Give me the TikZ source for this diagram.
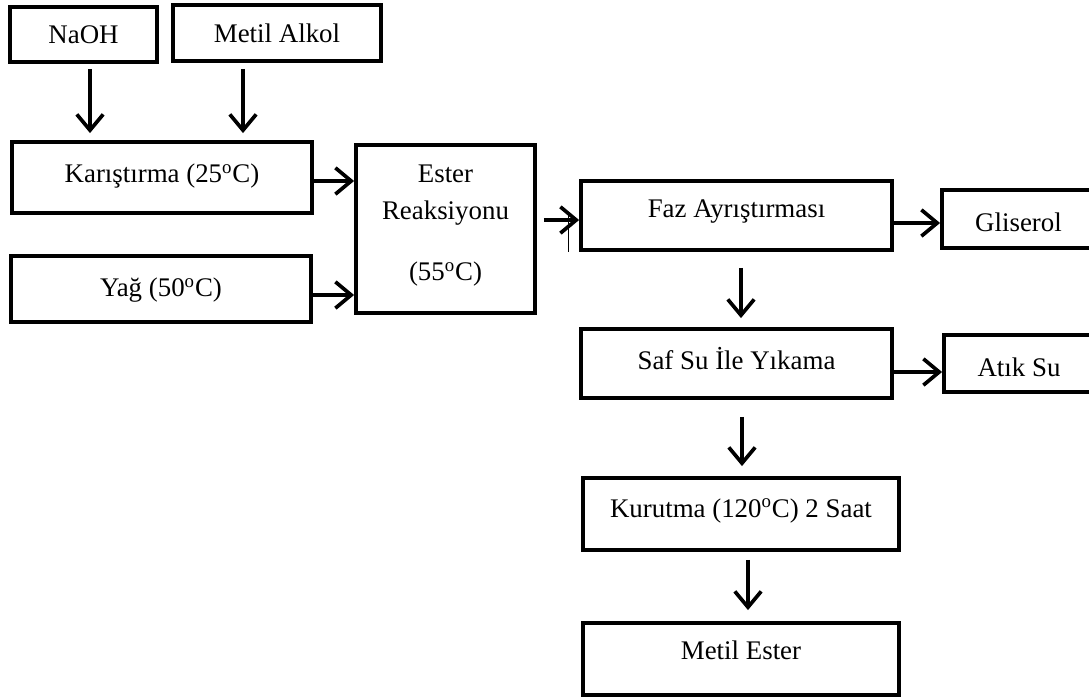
\documentclass[tikz,border=0pt]{standalone}
\usepackage{fontspec}
\setmainfont{Liberation Serif}
\usetikzlibrary{arrows.meta}
\tikzset{
  box/.style={draw, line width=2.2pt, inner sep=0pt, text height=13.4pt, text depth=3pt},
  flow/.style={line width=2.1pt, -{Straight Barb[length=9pt,width=15pt]}},
}
\newcommand{\dgr}{\textsuperscript{o}}

\begin{document}
\begin{tikzpicture}[x=0.02cm, y=-0.02cm, font=\fontsize{15.3}{21}\selectfont]
\clip (0,0) rectangle (1089,697);
% girdiler
\node[box, minimum width=2.94cm, minimum height=1.10cm] (naoh) at (83.5,34.5) {NaOH};
\node[box, minimum width=4.16cm, minimum height=1.12cm] (metil) at (277,33) {Metil Alkol};
\node[box, minimum width=6.00cm, minimum height=1.42cm, text depth=8pt] (kar) at (162,177.5) {Karıştırma (25\dgr C)};
\node[box, minimum width=6.00cm, minimum height=1.32cm, text depth=5pt] (yag) at (161,289) {Yağ (50\dgr C)};
\node[draw, line width=2.2pt, inner sep=0pt, minimum width=3.58cm, minimum height=3.36cm, align=center, text depth=7pt] (ester) at (445.5,229) {Ester\\Reaksiyonu\\[14pt](55\dgr C)};
% ayirma ve yikama
\node[box, minimum width=6.22cm, minimum height=1.38cm, text depth=11.5pt] (faz) at (736.5,215.5) {Faz Ayrıştırması};
\node[box, minimum width=3.06cm, minimum height=1.16cm, text height=17.4pt] (gli) at (1018.5,219) {Gliserol};
\node[box, minimum width=6.22cm, minimum height=1.38cm, text depth=7pt] (saf) at (736.5,363.5) {Saf Su İle Yıkama};
\node[box, minimum width=3.00cm, minimum height=1.14cm, text height=17.4pt] (atik) at (1019,363.5) {Atık Su};
\node[box, minimum width=6.32cm, minimum height=1.44cm, text depth=9.8pt] (kur) at (741,514) {Kurutma (120\dgr C) 2 Saat};
\node[box, minimum width=6.32cm, minimum height=1.44cm, text depth=13pt] (mes) at (741,659) {Metil Ester};
% oklar
\draw[flow, shorten <=0.1cm, shorten >=0.14cm] ([xshift=0.13cm]naoh.south) -- ([xshift=0.13cm]naoh.south |- kar.north);
\draw[flow, shorten <=0.12cm, shorten >=0.14cm] ([xshift=-0.68cm]metil.south) -- ([xshift=-0.68cm]metil.south |- kar.north);
\draw[flow] ([yshift=-0.07cm]kar.east) -- ([yshift=-0.07cm]kar.east -| ester.west);
\draw[flow] ([yshift=-0.12cm]yag.east) -- ([yshift=-0.12cm]yag.east -| ester.west);
\draw[flow, shorten <=0.14cm] ([yshift=-0.09cm]faz.west -| ester.east) -- ([yshift=-0.09cm]faz.west);
\draw[line width=0.6pt] ([xshift=-0.22cm]faz.west) -- ([xshift=-0.22cm]faz.south west);
\draw[flow] ([yshift=-0.08cm]gli.west -| faz.east) -- ([yshift=-0.08cm]gli.west);
\draw[flow, shorten <=0.32cm, shorten >=0.18cm] ([xshift=0.09cm]faz.south) -- ([xshift=0.09cm]faz.south |- saf.north);
\draw[flow] ([yshift=-0.17cm]saf.east) -- ([yshift=-0.17cm]saf.east -| atik.west);
\draw[flow, shorten <=0.34cm, shorten >=0.2cm] ([xshift=0.11cm]saf.south) -- ([xshift=0.11cm]saf.south |- kur.north);
\draw[flow, shorten <=0.16cm, shorten >=0.22cm] ([xshift=0.14cm]kur.south) -- ([xshift=0.14cm]kur.south |- mes.north);
\end{tikzpicture}
\end{document}
